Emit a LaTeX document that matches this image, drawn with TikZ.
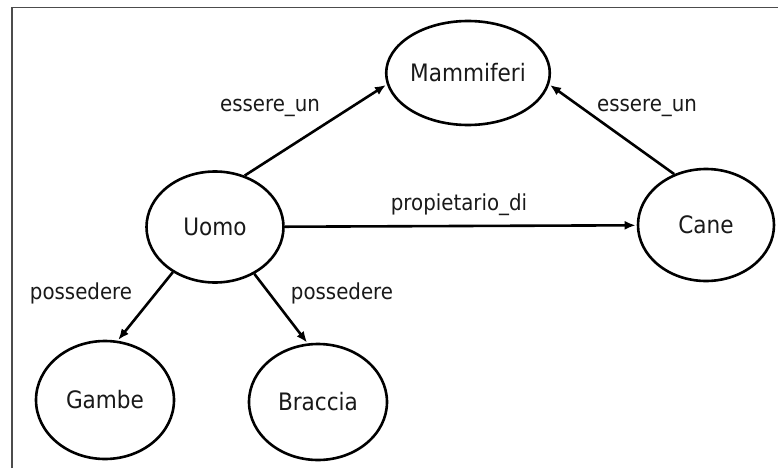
\documentclass[tikz,border=0pt]{standalone}
\usepackage{fontspec}
\setmainfont{DejaVu Sans Condensed}
\usetikzlibrary{shapes.geometric,arrows.meta}
\begin{document}
\begin{tikzpicture}[x=1pt,y=-1pt,
  concept/.style={ellipse,draw=black,line width=2.6pt,inner sep=0pt,
    font=\fontsize{24}{27}\selectfont,text=black!90},
  relation/.style={font=\fontsize{22}{25}\selectfont,text=black!90,inner sep=0pt},
  link/.style={line width=2.6pt,-{Latex[length=11pt,width=9pt]},shorten >=1pt},
  frameline/.style={draw=black!70,line width=1.4pt}]
  \useasboundingbox (0,0) rectangle (778,468);
  % frame
  \draw[frameline] (12,468) -- (12,7.5) -- (778,7.5);

  % concepts
  \node[concept,minimum width=140pt,minimum height=104pt] (mamm) at (468,73) {Mammiferi};
  \node[concept,minimum width=137pt,minimum height=111pt] (uomo) at (215,227) {Uomo};
  \node[concept,minimum width=136pt,minimum height=112pt] (cane) at (706,225) {Cane};
  \node[concept,minimum width=138pt,minimum height=118pt] (gambe) at (105,400) {Gambe};
  \node[concept,minimum width=138pt,minimum height=116pt] (braccia) at (318,402) {Braccia};

  % relations
  \draw[link] (uomo.60) -- (mamm.188);
  \draw[link] (cane.122) -- (mamm.-8);
  \draw[link] (uomo) -- (cane);
  \draw[link] (uomo.227) -- (gambe.78);
  \draw[link] (uomo.310) -- (braccia.100);

  % relation labels
  \node[relation] (l1) at (270,108) {essere\_un};
  \node[relation] (l2) at (647,108) {essere\_un};
  \node[relation] (l3) at (459,205) {propietario\_di};
  \node[relation] (l4) at (81,293) {possedere};
  \node[relation] (l5) at (342,293) {possedere};
\end{tikzpicture}
\end{document}
